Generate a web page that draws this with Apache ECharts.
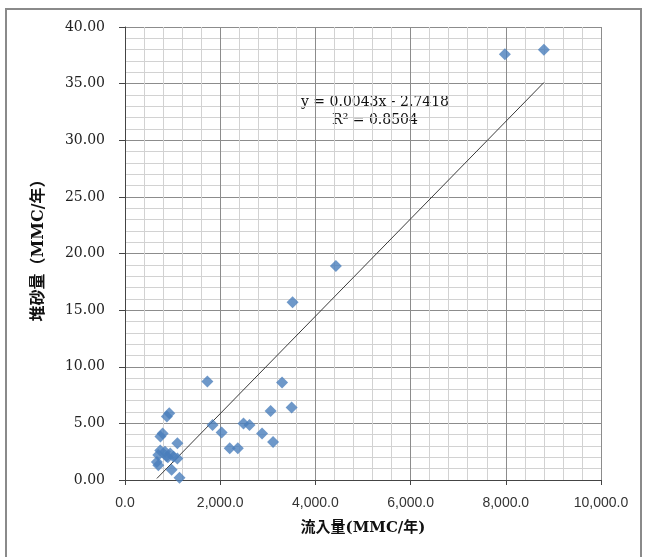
<!DOCTYPE html>
<html>
<head>
<meta charset="utf-8">
<script src="https://cdn.jsdelivr.net/npm/echarts@6/dist/echarts.min.js"></script>
<style>
html,body{margin:0;padding:0;background:#fff;}
#c{width:645px;height:557px;}
</style>
</head>
<body>
<div id="c"></div>
<script>
// Inflow (MMC/year)
const inflow = [8800, 7980, 4430, 3520, 1730, 3300, 3500, 3060, 930, 880,
  1840, 2490, 2615, 2030, 2880, 3110, 2200, 2370, 790, 745,
  1100, 740, 840, 950, 1020, 700, 1100, 670, 700, 980, 1145, 870, 900];
// Sediment (MMC/year)
const sediment = [38.0, 37.6, 18.9, 15.7, 8.7, 8.6, 6.4, 6.1, 5.9, 5.6,
  4.85, 5.0, 4.85, 4.2, 4.1, 3.35, 2.8, 2.8, 4.1, 3.85,
  3.25, 2.6, 2.5, 2.35, 2.05, 2.2, 1.9, 1.6, 1.3, 0.9, 0.2, 2.1, 2.0];
// Trendline coefficients
const slope = 0.0043;
const intercept = -2.7418;
const r2 = 0.8504;
const xTicks = ['0.0', '2,000.0', '4,000.0', '6,000.0', '8,000.0', '10,000.0'];
const yTicks = ['0.00', '5.00', '10.00', '15.00', '20.00', '25.00', '30.00', '35.00', '40.00'];

const points = inflow.map((x, i) => [x, sediment[i]]);
const xMin = Math.min(...inflow), xMax = Math.max(...inflow);
const trend = [[xMin, slope * xMin + intercept], [xMax, slope * xMax + intercept]];

const nameFont = '"DejaVu Serif", "Noto Sans CJK JP"';

const chart = echarts.init(document.getElementById('c'), null, {renderer: 'canvas'});
chart.setOption({
  backgroundColor: '#fff',
  animation: false,
  grid: {left: 125, right: 44, top: 27, bottom: 77},
  xAxis: {
    type: 'value', min: 0, max: 10000, interval: 2000,
    axisLine: {show: true, onZero: false, lineStyle: {color: '#444', width: 1}},
    axisTick: {show: true, length: 5, lineStyle: {color: '#444'}},
    axisLabel: {
      margin: 16, color: '#333', fontFamily: 'Liberation Sans', fontSize: 14,
      formatter: v => xTicks[Math.round(v / 2000)]
    },
    splitLine: {show: true, lineStyle: {color: '#8c8c8c', width: 1}},
    minorTick: {show: false, splitNumber: 5},
    minorSplitLine: {show: true, lineStyle: {color: '#d2d2d2', width: 1}},
    name: '流入量(MMC/年)', nameLocation: 'middle', nameGap: 41,
    nameTextStyle: {fontFamily: nameFont, fontWeight: 'bold', fontSize: 15, color: '#111'}
  },
  yAxis: {
    type: 'value', min: 0, max: 40, interval: 5,
    axisLine: {show: true, onZero: false, lineStyle: {color: '#444', width: 1}},
    axisTick: {show: true, length: 6, lineStyle: {color: '#444'}},
    axisLabel: {
      margin: 20, color: '#222', fontFamily: 'DejaVu Serif', fontSize: 14,
      formatter: v => yTicks[Math.round(v / 5)]
    },
    splitLine: {show: true, lineStyle: {color: '#8c8c8c', width: 1}},
    minorTick: {show: false, splitNumber: 5},
    minorSplitLine: {show: true, lineStyle: {color: '#d2d2d2', width: 1}},
    name: '堆砂量（MMC/年）', nameLocation: 'middle', nameGap: 78, nameRotate: 90,
    nameTextStyle: {fontFamily: nameFont, fontWeight: 'bold', fontSize: 16, color: '#111',
      padding: [0, 0, 0, 14]}
  },
  series: [
    {
      type: 'line', data: trend, showSymbol: false, symbol: 'none',
      lineStyle: {color: '#3a3a3a', width: 1}, z: 2, silent: true
    },
    {
      type: 'scatter', data: points, symbol: 'diamond', symbolSize: 12,
      itemStyle: {color: '#4A7EBB'}, z: 3
    }
  ],
  graphic: [
    {type: 'rect', shape: {x: 6, y: 9, width: 635, height: 560},
     style: {fill: 'none', stroke: '#8a8a8a', lineWidth: 2}, silent: true},
    {type: 'text', x: 375, y: 102,
     style: {text: 'y = ' + slope.toFixed(4) + 'x - ' + Math.abs(intercept).toFixed(4),
       font: '14px "DejaVu Serif"', fill: '#111', align: 'center', verticalAlign: 'middle'}},
    {type: 'text', x: 375, y: 120,
     style: {text: 'R² = ' + r2.toFixed(4),
       font: '14px "DejaVu Serif"', fill: '#111', align: 'center', verticalAlign: 'middle'}}
  ]
});
</script>
</body>
</html>
